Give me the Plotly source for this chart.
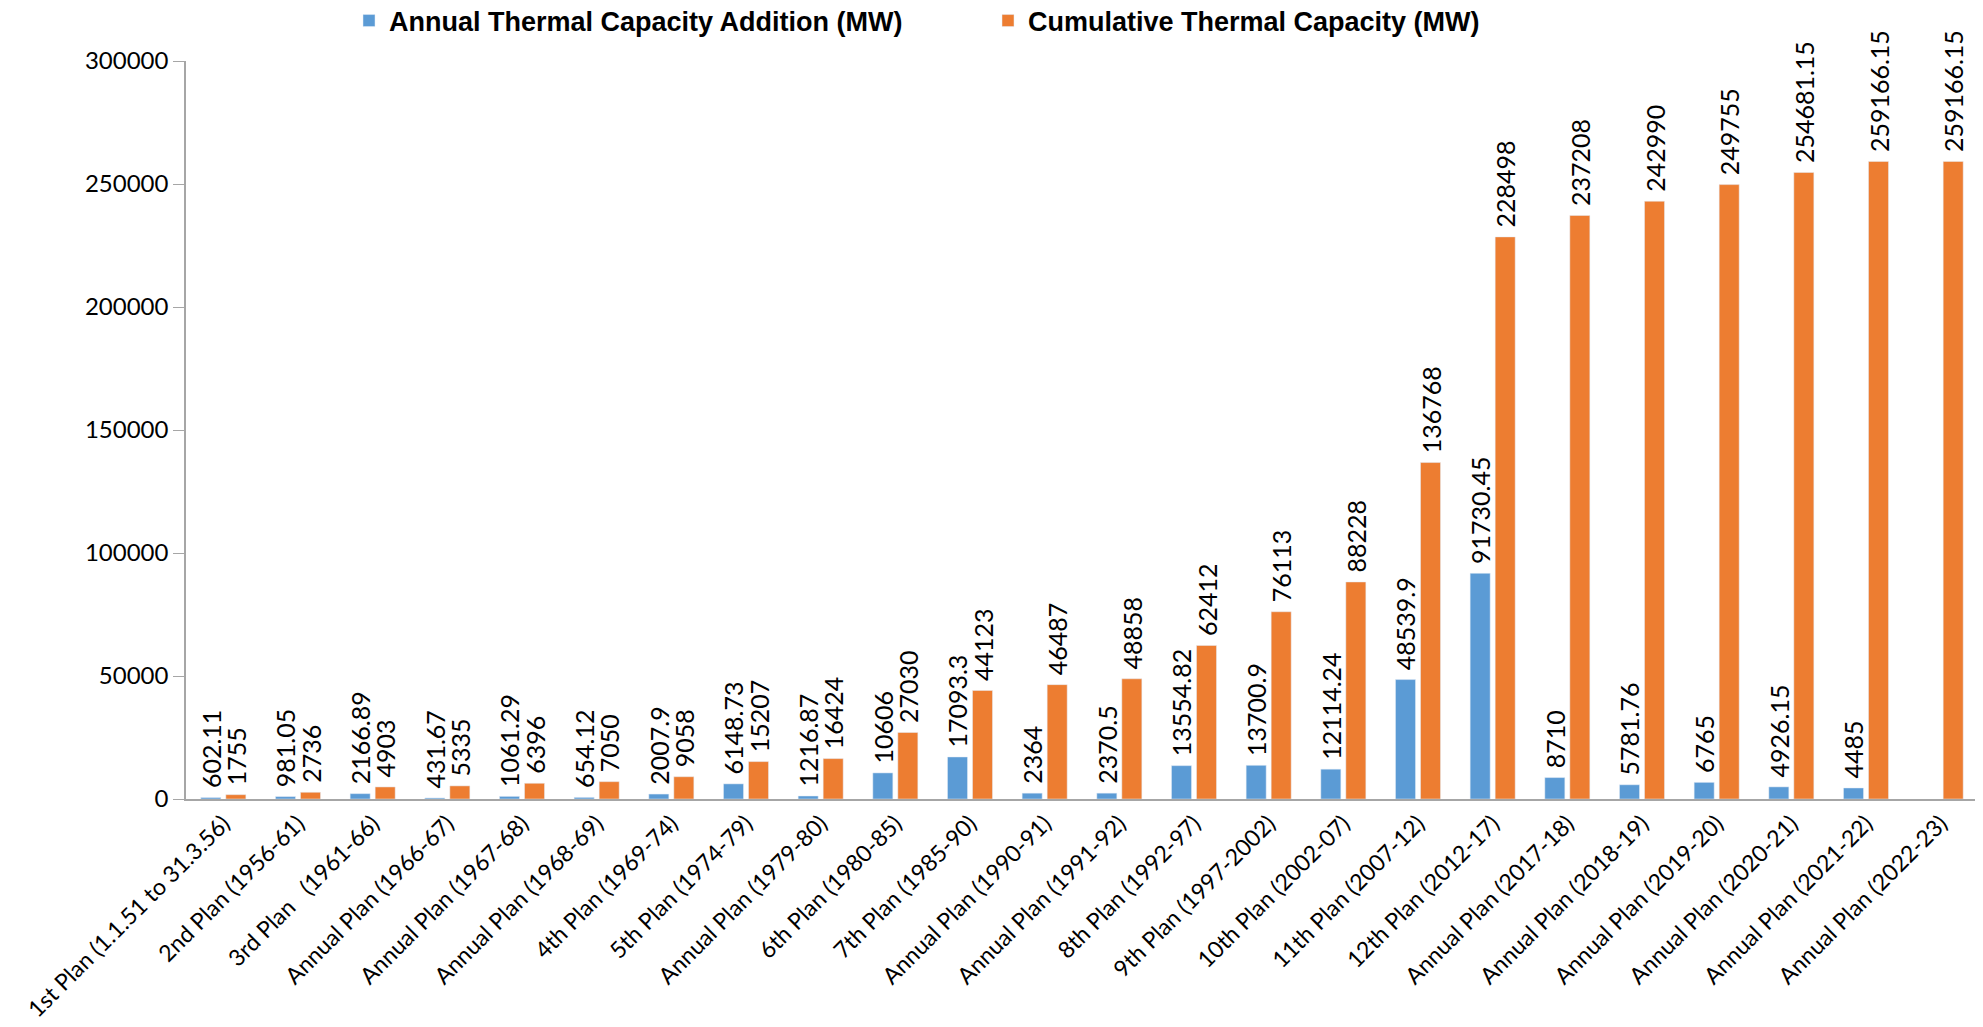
import plotly.graph_objects as go

categories = [
    "1st Plan (1.1.51 to 31.3.56)", "2nd Plan (1956-61)", "3rd Plan\u00a0\u00a0\u00a0(1961-66)",
    "Annual Plan (1966-67)", "Annual Plan (1967-68)", "Annual Plan (1968-69)",
    "4th Plan (1969-74)", "5th Plan (1974-79)", "Annual Plan (1979-80)",
    "6th Plan (1980-85)", "7th Plan (1985-90)", "Annual Plan (1990-91)",
    "Annual Plan (1991-92)", "8th Plan (1992-97)", "9th Plan (1997-2002)",
    "10th Plan (2002-07)", "11th Plan (2007-12)", "12th Plan (2012-17)",
    "Annual Plan (2017-18)", "Annual Plan (2018-19)", "Annual Plan (2019-20)",
    "Annual Plan (2020-21)", "Annual Plan (2021-22)", "Annual Plan (2022-23)",
]

annual_addition = [
    602.11, 981.05, 2166.89, 431.67, 1061.29, 654.12, 2007.9, 6148.73, 1216.87,
    10606, 17093.3, 2364, 2370.5, 13554.82, 13700.9, 12114.24, 48539.9, 91730.45,
    8710, 5781.76, 6765, 4926.15, 4485, None,
]

cumulative_capacity = [
    1755, 2736, 4903, 5335, 6396, 7050, 9058, 15207, 16424, 27030, 44123, 46487,
    48858, 62412, 76113, 88228, 136768, 228498, 237208, 242990, 249755,
    254681.15, 259166.15, 259166.15,
]

y_ticks = [0, 50000, 100000, 150000, 200000, 250000, 300000]


def labels(vals):
    # leading no-break space gives the rotated label a little lift above the bar
    return ["" if v is None else "\u00a0" + str(v) for v in vals]


FONT = "Lato, 'Open Sans', sans-serif"
label_font = dict(family=FONT, size=25, color="black")

fig = go.Figure()
fig.add_trace(go.Bar(
    name="Annual Thermal Capacity Addition (MW)",
    x=categories, y=annual_addition,
    marker_color="#5B9BD5",
    text=labels(annual_addition), textposition="outside", textangle=-90,
    textfont=label_font, cliponaxis=False, constraintext="none",
))
fig.add_trace(go.Bar(
    name="Cumulative Thermal Capacity (MW)",
    x=categories, y=cumulative_capacity,
    marker_color="#ED7D31",
    text=labels(cumulative_capacity), textposition="outside", textangle=-90,
    textfont=label_font, cliponaxis=False, constraintext="none",
))

fig.update_layout(
    width=1983, height=1027,
    paper_bgcolor="white", plot_bgcolor="white",
    margin=dict(l=178, r=13, t=53, b=236),
    barmode="group", bargap=0.33, bargroupgap=0.2,
    font=dict(family=FONT, size=24, color="black"),
    legend=dict(
        orientation="h", xref="container", yref="container",
        x=341 / 1983, xanchor="left", y=1 - 13 / 1027, yanchor="middle",
        font=dict(family="'Liberation Sans', Arial, sans-serif", size=27,
                  color="black", weight="bold"),
        itemwidth=30, entrywidth=594, traceorder="normal",
        bgcolor="rgba(0,0,0,0)",
    ),
    showlegend=True,
)

fig.update_xaxes(
    tickangle=-45, showline=True, linecolor="#A6A6A6", linewidth=2,
    ticks="", showgrid=False, tickfont=dict(size=23), automargin=False,
)
fig.update_yaxes(
    range=[0, 300000], tickvals=y_ticks, ticktext=[str(t) for t in y_ticks],
    showline=True, linecolor="#A6A6A6", linewidth=1.5, ticks="outside",
    ticklen=11, tickcolor="#A6A6A6", showgrid=False, zeroline=False,
    tickfont=dict(size=24), automargin=False,
)

fig.write_html("out.html")
